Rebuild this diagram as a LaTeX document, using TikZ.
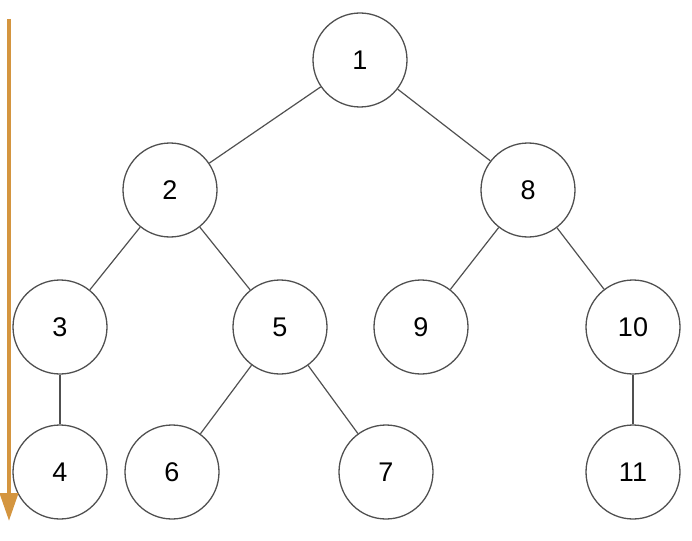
\documentclass[tikz,border=0pt]{standalone}
\usepackage{fontspec}
\setmainfont{Liberation Sans}
\usetikzlibrary{arrows.meta}
\definecolor{edgec}{HTML}{505050}
\definecolor{arrc}{HTML}{D4953F}
\begin{document}
\begin{tikzpicture}[x=1pt,y=-1pt,
  tn/.style={circle,draw=edgec,line width=1.3pt,minimum size=94pt,inner sep=0pt,font=\fontsize{27}{30}\selectfont},
  ed/.style={draw=edgec,line width=1.2pt}]
\useasboundingbox (0,0) rectangle (692,540);
\node[tn] (n1) at (360,60) {1};
\node[tn] (n2) at (170,190) {2};
\node[tn] (n8) at (528,190) {8};
\node[tn] (n3) at (60,327) {3};
\node[tn] (n5) at (280,327) {5};
\node[tn] (n9) at (421,327) {9};
\node[tn] (n10) at (633,327) {10};
\node[tn] (n4) at (60,472) {4};
\node[tn] (n6) at (172,472) {6};
\node[tn] (n7) at (386,472) {7};
\node[tn] (n11) at (633,472) {11};
\draw[ed] (n1) -- (n2);
\draw[ed] (n1) -- (n8);
\draw[ed] (n2) -- (n3);
\draw[ed] (n2) -- (n5);
\draw[ed] (n3) -- (n4);
\draw[ed] (n5) -- (n6);
\draw[ed] (n5) -- (n7);
\draw[ed] (n8) -- (n9);
\draw[ed] (n8) -- (n10);
\draw[ed] (n10) -- (n11);
\coordinate (a0) at (9,19);
\coordinate (a1) at (9,521);
\draw[arrc,line width=4pt,-{Triangle[length=28pt,width=18pt]}] (a0) -- (a1);
\end{tikzpicture}
\end{document}
